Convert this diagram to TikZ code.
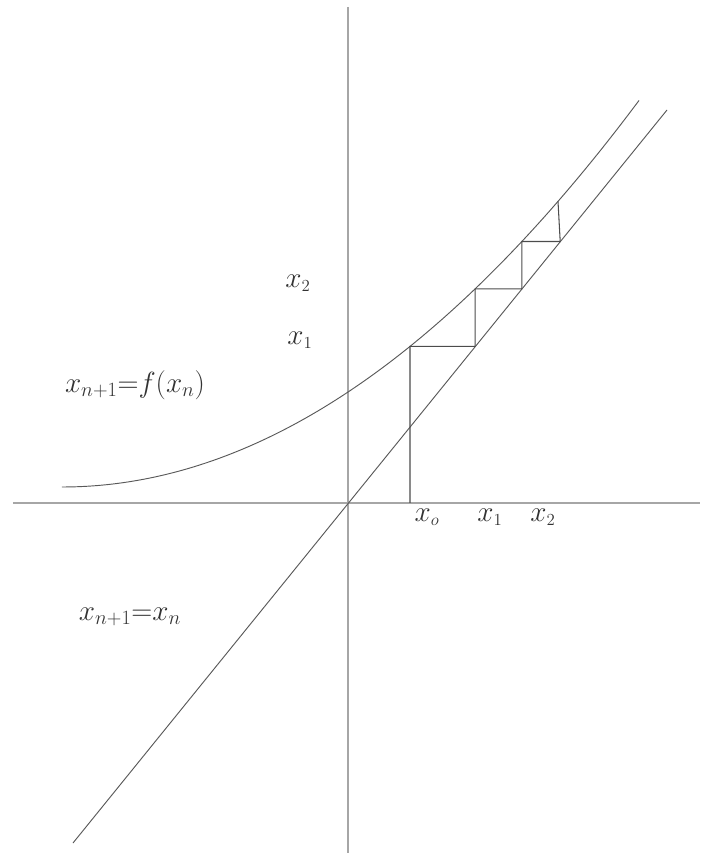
\documentclass[tikz,border=0pt]{standalone}
\tikzset{
  axis/.style={line width=1.5pt,gray!70},
  graph/.style={line width=0.8pt,black!65},
  stair/.style={line width=0.9pt,black!70},
  lbl/.style={font=\fontsize{30}{30}\selectfont,text=black!80,inner sep=0pt},
  biglbl/.style={font=\fontsize{34}{34}\selectfont,text=black!80,inner sep=0pt}
}
\newcommand{\sub}[1]{_{\scriptscriptstyle #1}}
\begin{document}
\begin{tikzpicture}[x=0.03cm,y=0.03cm]
  \useasboundingbox (-348,-350) rectangle (366,503);
  % axes
  \draw[axis] (-335,0) -- (352,0);
  \draw[axis] (0,496) -- (0,-350);
  % the line x_{n+1}=x_n
  \coordinate (lo) at (-275,-340);
  \coordinate (hi) at (319,393);
  \draw[graph] (lo) -- (hi);
  % the curve x_{n+1}=f(x_n)
  \draw[graph] plot[domain=-286:291,samples=80,smooth]
    (\x,{16+11.61*((\x+286)/100)^2});
  % iteration
  \coordinate (x0) at (62,0);
  \coordinate (p0) at (62,156.6);
  \coordinate (q1) at (127.1,156.6);
  \coordinate (p1) at (127.1,214.1);
  \coordinate (q2) at (173.8,214.1);
  \coordinate (p2) at (173.8,261.5);
  \coordinate (q3) at (212.2,261.5);
  \coordinate (p3) at (210,301.6);
  \draw[stair] (x0) -- (p0) -- (q1) -- (p1) -- (q2) -- (p2) -- (q3) -- (p3);
  % labels
  \node[lbl] (lx0) at (79,-14) {$x\sub{o}$};
  \node[lbl] (lx1) at (142,-14) {$x\sub{1}$};
  \node[lbl] (lx2) at (195,-14) {$x\sub{2}$};
  \node[lbl] (ly2) at (-50,220) {$x\sub{2}$};
  \node[lbl] (ly1) at (-48,163) {$x\sub{1}$};
  \node[biglbl] (lf) at (-213,118) {$x\sub{n+1}{=}f(x\sub{n})$};
  \node[biglbl] (ld) at (-218,-114) {$x\sub{n+1}{=}x\sub{n}$};
\end{tikzpicture}
\end{document}
